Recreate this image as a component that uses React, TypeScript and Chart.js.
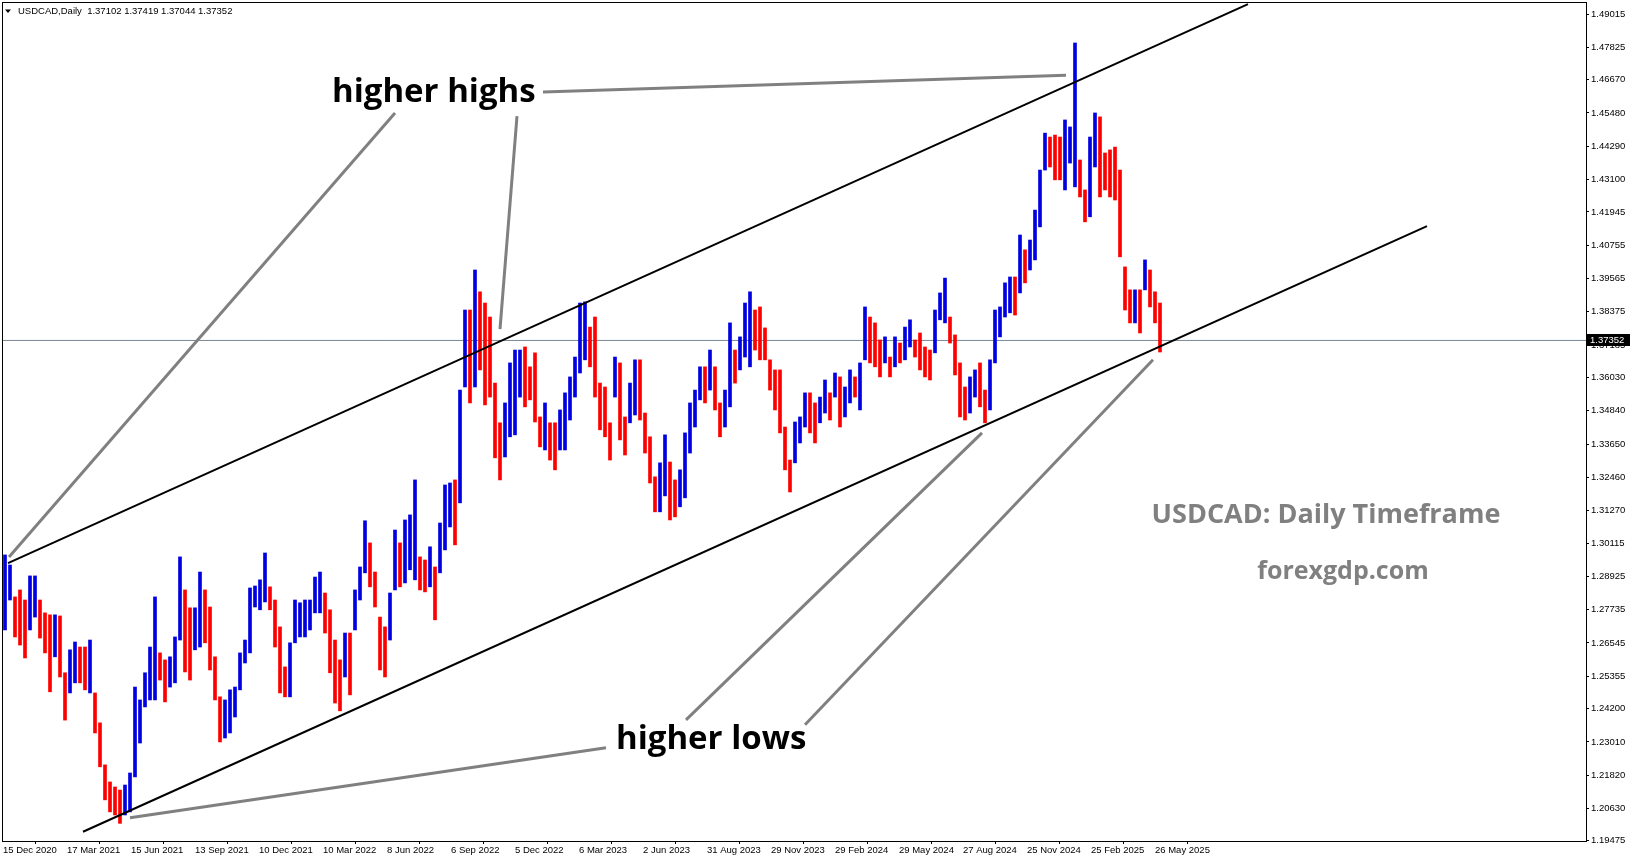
import { useEffect, useRef } from 'react';
import { Chart, registerables } from 'chart.js';

Chart.register(...registerables);

// ---- DATA (weekly high / low of USDCAD daily bars) ----
const weekHigh = [
  1.2969, 1.2933, 1.2819, 1.2844, 1.2808, 1.2894, 1.2894, 1.2808, 1.2762, 1.2755,
  1.2755, 1.2751, 1.2548, 1.2630, 1.2658, 1.2640, 1.2640, 1.2665, 1.2476, 1.2369,
  1.2219, 1.2158, 1.2140, 1.2129, 1.2147, 1.2190, 1.2497, 1.2451, 1.2548, 1.2640,
  1.2819, 1.2619, 1.2594, 1.2605, 1.2676, 1.2962, 1.2844, 1.2780, 1.2780, 1.2908,
  1.2844, 1.2783, 1.2605, 1.2462, 1.2451, 1.2487, 1.2497, 1.2619, 1.2665, 1.2851,
  1.2858, 1.2880, 1.2976, 1.2855, 1.2808, 1.2712, 1.2569, 1.2655, 1.2808, 1.2798,
  1.2808, 1.2808, 1.2890, 1.2908, 1.2833, 1.2773, 1.2665, 1.2594, 1.2690, 1.2690,
  1.2844, 1.2926, 1.3091, 1.3012, 1.2908, 1.2747, 1.2712, 1.2833, 1.3058, 1.3012,
  1.3094, 1.3112, 1.3237, 1.2962, 1.2951, 1.2998, 1.2926, 1.3083, 1.3219, 1.3226,
  1.3237, 1.3558, 1.3844, 1.3844, 1.3987, 1.3909, 1.3869, 1.3819, 1.3583, 1.3441,
  1.3512, 1.3655, 1.3701, 1.3701, 1.3712, 1.3641, 1.3691, 1.3462, 1.3512, 1.3441,
  1.3441, 1.3487, 1.3548, 1.3605, 1.3676, 1.3869, 1.3873, 1.3783, 1.3819, 1.3583,
  1.3569, 1.3441, 1.3676, 1.3655, 1.3462, 1.3583, 1.3666, 1.3666, 1.3476, 1.3391,
  1.3248, 1.3298, 1.3398, 1.3301, 1.3237, 1.3273, 1.3405, 1.3512, 1.3558, 1.3641,
  1.3641, 1.3701, 1.3641, 1.3512, 1.3558, 1.3798, 1.3701, 1.3748, 1.3869, 1.3909,
  1.3844, 1.3855, 1.3780, 1.3666, 1.3630, 1.3630, 1.3426, 1.3308, 1.3444, 1.3462,
  1.3548, 1.3548, 1.3512, 1.3533, 1.3594, 1.3548, 1.3619, 1.3605, 1.3569, 1.3630,
  1.3605, 1.3655, 1.3855, 1.3819, 1.3798, 1.3737, 1.3748, 1.3676, 1.3748, 1.3726,
  1.3783, 1.3809, 1.3737, 1.3762, 1.3712, 1.3701, 1.3844, 1.3905, 1.3958, 1.3819,
  1.3755, 1.3655, 1.3569, 1.3605, 1.3630, 1.3655, 1.3558, 1.3666, 1.3844, 1.3855,
  1.3941, 1.3962, 1.3962, 1.4112, 1.4059, 1.4094, 1.4201, 1.4344, 1.4476, 1.4462,
  1.4469, 1.4462, 1.4523, 1.4498, 1.4798, 1.4380, 1.4273, 1.4462, 1.4548, 1.4534,
  1.4405, 1.4416, 1.4426, 1.4344, 1.3998, 1.3916, 1.3916, 1.3916, 1.4023, 1.3987,
  1.3909, 1.3869,
];

const weekLow = [
  1.2701, 1.2808, 1.2676, 1.2647, 1.2601, 1.2701, 1.2747, 1.2672, 1.2619, 1.2480,
  1.2605, 1.2533, 1.2379, 1.2476, 1.2512, 1.2512, 1.2487, 1.2476, 1.2333, 1.2212,
  1.2094, 1.2051, 1.2040, 1.2010, 1.2040, 1.2051, 1.2176, 1.2297, 1.2426, 1.2451,
  1.2451, 1.2522, 1.2444, 1.2497, 1.2512, 1.2665, 1.2551, 1.2522, 1.2630, 1.2640,
  1.2655, 1.2558, 1.2451, 1.2301, 1.2315, 1.2333, 1.2390, 1.2487, 1.2583, 1.2619,
  1.2783, 1.2773, 1.2801, 1.2773, 1.2640, 1.2476, 1.2462, 1.2462, 1.2655, 1.2676,
  1.2676, 1.2701, 1.2762, 1.2762, 1.2690, 1.2548, 1.2440, 1.2412, 1.2533, 1.2469,
  1.2701, 1.2808, 1.2905, 1.2855, 1.2783, 1.2558, 1.2533, 1.2665, 1.2844, 1.2855,
  1.2869, 1.2916, 1.2880, 1.2844, 1.2837, 1.2855, 1.2737, 1.2905, 1.2987, 1.3069,
  1.3005, 1.3155, 1.3569, 1.3512, 1.3569, 1.3630, 1.3505, 1.3533, 1.3316, 1.3237,
  1.3319, 1.3391, 1.3398, 1.3533, 1.3498, 1.3523, 1.3444, 1.3355, 1.3344, 1.3308,
  1.3273, 1.3344, 1.3344, 1.3451, 1.3533, 1.3619, 1.3666, 1.3641, 1.3533, 1.3416,
  1.3391, 1.3308, 1.3533, 1.3380, 1.3326, 1.3441, 1.3469, 1.3451, 1.3333, 1.3226,
  1.3123, 1.3123, 1.3180, 1.3094, 1.3105, 1.3141, 1.3173, 1.3333, 1.3426, 1.3523,
  1.3512, 1.3558, 1.3487, 1.3391, 1.3426, 1.3498, 1.3583, 1.3630, 1.3676, 1.3641,
  1.3701, 1.3666, 1.3666, 1.3558, 1.3487, 1.3405, 1.3273, 1.3194, 1.3298, 1.3369,
  1.3426, 1.3405, 1.3369, 1.3441, 1.3476, 1.3451, 1.3533, 1.3426, 1.3462, 1.3512,
  1.3533, 1.3487, 1.3666, 1.3655, 1.3641, 1.3605, 1.3655, 1.3605, 1.3641, 1.3655,
  1.3666, 1.3712, 1.3676, 1.3630, 1.3605, 1.3594, 1.3691, 1.3809, 1.3798, 1.3726,
  1.3612, 1.3462, 1.3451, 1.3476, 1.3533, 1.3498, 1.3441, 1.3487, 1.3655, 1.3748,
  1.3819, 1.3834, 1.3826, 1.3905, 1.3941, 1.3987, 1.4023, 1.4141, 1.4344, 1.4355,
  1.4309, 1.4309, 1.4273, 1.4369, 1.4284, 1.4248, 1.4159, 1.4177, 1.4355, 1.4248,
  1.4273, 1.4248, 1.4237, 1.4034, 1.3844, 1.3798, 1.3798, 1.3762, 1.3916, 1.3855,
  1.3798, 1.3694,
];

const yTickValues = [
  1.49015, 1.47825, 1.4667, 1.4548, 1.4429, 1.431, 1.41945, 1.40755, 1.39565, 1.38375,
  1.37185, 1.3603, 1.3484, 1.3365, 1.3246, 1.3127, 1.30115, 1.28925, 1.27735, 1.26545,
  1.25355, 1.242, 1.2301, 1.2182, 1.2063, 1.19475,
];

// trading-day index of each date label
const xTickIdx = [0, 64, 128, 192, 256, 320, 384, 448, 512, 576, 640, 704, 768, 832, 896, 960, 1024, 1088, 1152];
const xTickLabels = [
  '15 Dec 2020', '17 Mar 2021', '15 Jun 2021', '13 Sep 2021', '10 Dec 2021', '10 Mar 2022',
  '8 Jun 2022', '6 Sep 2022', '5 Dec 2022', '6 Mar 2023', '2 Jun 2023', '31 Aug 2023',
  '29 Nov 2023', '29 Feb 2024', '29 May 2024', '27 Aug 2024', '25 Nov 2024', '25 Feb 2025',
  '26 May 2025',
];

// channel trend lines (trading-day index, price)
const upperChannel = [{ x: 5, y: 1.294 }, { x: 1245, y: 1.4937 }];
const lowerChannel = [{ x: 80, y: 1.198 }, { x: 1424, y: 1.4144 }];

// grey pointer lines of the annotations (trading-day index, price)
const pointerLines = [
  [{ x: 392, y: 1.4548 }, { x: 6, y: 1.2962 }],
  [{ x: 514, y: 1.4537 }, { x: 497, y: 1.3776 }],
  [{ x: 540, y: 1.4623 }, { x: 1063, y: 1.4683 }],
  [{ x: 127, y: 1.203 }, { x: 603, y: 1.228 }],
  [{ x: 683, y: 1.238 }, { x: 979, y: 1.3405 }],
  [{ x: 802, y: 1.2362 }, { x: 1150, y: 1.3666 }],
];

const lastPrice = 1.37352;
const headerText = 'USDCAD,Daily  1.37102 1.37419 1.37044 1.37352';

const annotationTexts = [
  { text: 'higher highs', x: 329, y: 1.4587, font: 'bold 33px "Open Sans"', color: '#000000', align: 'left', baseline: 'alphabetic' },
  { text: 'higher lows', x: 613, y: 1.2276, font: 'bold 33px "Open Sans"', color: '#000000', align: 'left', baseline: 'alphabetic' },
  { text: 'USDCAD: Daily Timeframe', x: 1323, y: 1.3112, font: 'bold 27px "Open Sans"', color: '#808080', align: 'center', baseline: 'middle' },
  { text: 'forexgdp.com', x: 1340, y: 1.2908, font: 'bold 25px "Open Sans"', color: '#808080', align: 'center', baseline: 'middle' },
];

const BLUE = '#0000e0';
const RED = '#ff0000';
const AXIS_FONT = { family: 'Liberation Sans, Arial, sans-serif', size: 9.5 };

export default function App() {
  const canvasRef = useRef<HTMLCanvasElement | null>(null);

  useEffect(() => {
    document.body.style.margin = '0';
    const canvas = canvasRef.current;
    if (!canvas) return;

    const mids = weekHigh.map((h, i) => (h + weekLow[i]) / 2);
    const barColors = mids.map((m, i) => (i === 0 || m >= mids[i - 1] ? BLUE : RED));
    const barData = weekHigh.map((h, k) => ({ x: k * 5 + 2, y: [weekLow[k], h] }));

    const zeroPad = (scale: any) => {
      scale.paddingTop = 0;
      scale.paddingBottom = 0;
      scale.paddingLeft = 0;
      scale.paddingRight = 0;
    };

    const overlay = {
      id: 'overlay',
      afterDatasetsDraw(chart: any) {
        const ctx = chart.ctx;
        const xs = chart.scales.x;
        const ys = chart.scales.y;
        ctx.save();
        for (const t of annotationTexts) {
          ctx.font = t.font;
          ctx.fillStyle = t.color;
          ctx.textAlign = t.align;
          ctx.textBaseline = t.baseline;
          ctx.fillText(t.text, xs.getPixelForValue(t.x), ys.getPixelForValue(t.y));
        }
        ctx.restore();
      },
      afterDraw(chart: any) {
        const ctx = chart.ctx;
        const a = chart.chartArea;
        const ys = chart.scales.y;
        ctx.save();
        // frame
        ctx.strokeStyle = '#000000';
        ctx.lineWidth = 1;
        ctx.strokeRect(a.left + 0.5, a.top + 0.5, a.right - a.left, a.bottom - a.top);
        // header
        ctx.fillStyle = '#000000';
        ctx.beginPath();
        ctx.moveTo(5, 9.5);
        ctx.lineTo(11, 9.5);
        ctx.lineTo(8, 13);
        ctx.closePath();
        ctx.fill();
        ctx.font = '9.5px "Liberation Sans", Arial, sans-serif';
        ctx.textAlign = 'left';
        ctx.textBaseline = 'alphabetic';
        ctx.fillText(headerText, 18, 14);
        // current price box
        const py = Math.round(ys.getPixelForValue(lastPrice));
        ctx.fillStyle = '#000000';
        ctx.fillRect(a.right + 1, py - 6, 43, 12);
        ctx.fillStyle = '#ffffff';
        ctx.textBaseline = 'middle';
        ctx.fillText(lastPrice.toFixed(5), a.right + 4, py + 0.5);
        ctx.restore();
      },
    };

    const datasets: any[] = [
      { type: 'line', data: upperChannel, borderColor: '#000000', borderWidth: 2, pointRadius: 0, fill: false, order: 0 },
      { type: 'line', data: lowerChannel, borderColor: '#000000', borderWidth: 2, pointRadius: 0, fill: false, order: 0 },
      ...pointerLines.map((pts) => ({
        type: 'line',
        data: pts,
        borderColor: '#808080',
        borderWidth: 3,
        pointRadius: 0,
        fill: false,
        order: 0,
      })),
      {
        type: 'bar',
        data: barData,
        backgroundColor: barColors,
        borderWidth: 0,
        barThickness: 3,
        order: 2,
      },
      {
        type: 'line',
        data: [{ x: -1, y: lastPrice }, { x: 1583, y: lastPrice }],
        borderColor: '#778899',
        borderWidth: 1,
        pointRadius: 0,
        fill: false,
        order: 5,
      },
    ];

    const chart = new Chart(canvas, {
      type: 'bar',
      data: { datasets },
      options: {
        animation: false,
        responsive: false,
        devicePixelRatio: 1,
        layout: { autoPadding: false, padding: { left: 2, top: 2, right: 0, bottom: 0 } },
        plugins: { legend: { display: false }, tooltip: { enabled: false } },
        scales: {
          x: {
            type: 'linear',
            position: 'bottom',
            min: -1,
            max: 1583,
            offset: false,
            afterBuildTicks: (scale: any) => {
              scale.ticks = xTickIdx.map((v) => ({ value: v }));
            },
            afterFit: (scale: any) => {
              scale.height = 20;
              zeroPad(scale);
            },
            grid: { display: true, drawOnChartArea: false, drawTicks: true, tickLength: 3, color: '#000000' },
            border: { display: false },
            ticks: {
              autoSkip: false,
              maxRotation: 0,
              minRotation: 0,
              align: 'start',
              padding: 1,
              color: '#000000',
              font: AXIS_FONT,
              callback: (_v: any, i: number) => xTickLabels[i],
            },
          },
          y: {
            type: 'linear',
            position: 'right',
            min: 1.1947,
            max: 1.49444,
            afterBuildTicks: (scale: any) => {
              scale.ticks = yTickValues.map((v) => ({ value: v }));
            },
            afterFit: (scale: any) => {
              scale.width = 45;
              zeroPad(scale);
            },
            grid: { display: true, drawOnChartArea: false, drawTicks: true, tickLength: 3, color: '#000000' },
            border: { display: false },
            ticks: {
              autoSkip: false,
              padding: 2,
              color: '#000000',
              font: AXIS_FONT,
              callback: (v: any) => Number(v).toFixed(5),
            },
          },
        },
      },
      plugins: [overlay],
    } as any);

    return () => chart.destroy();
  }, []);

  return (
    <div style={{ width: 1631, height: 861, background: '#ffffff' }}>
      <canvas ref={canvasRef} width={1631} height={861} style={{ display: 'block', width: 1631, height: 861 }} />
    </div>
  );
}
